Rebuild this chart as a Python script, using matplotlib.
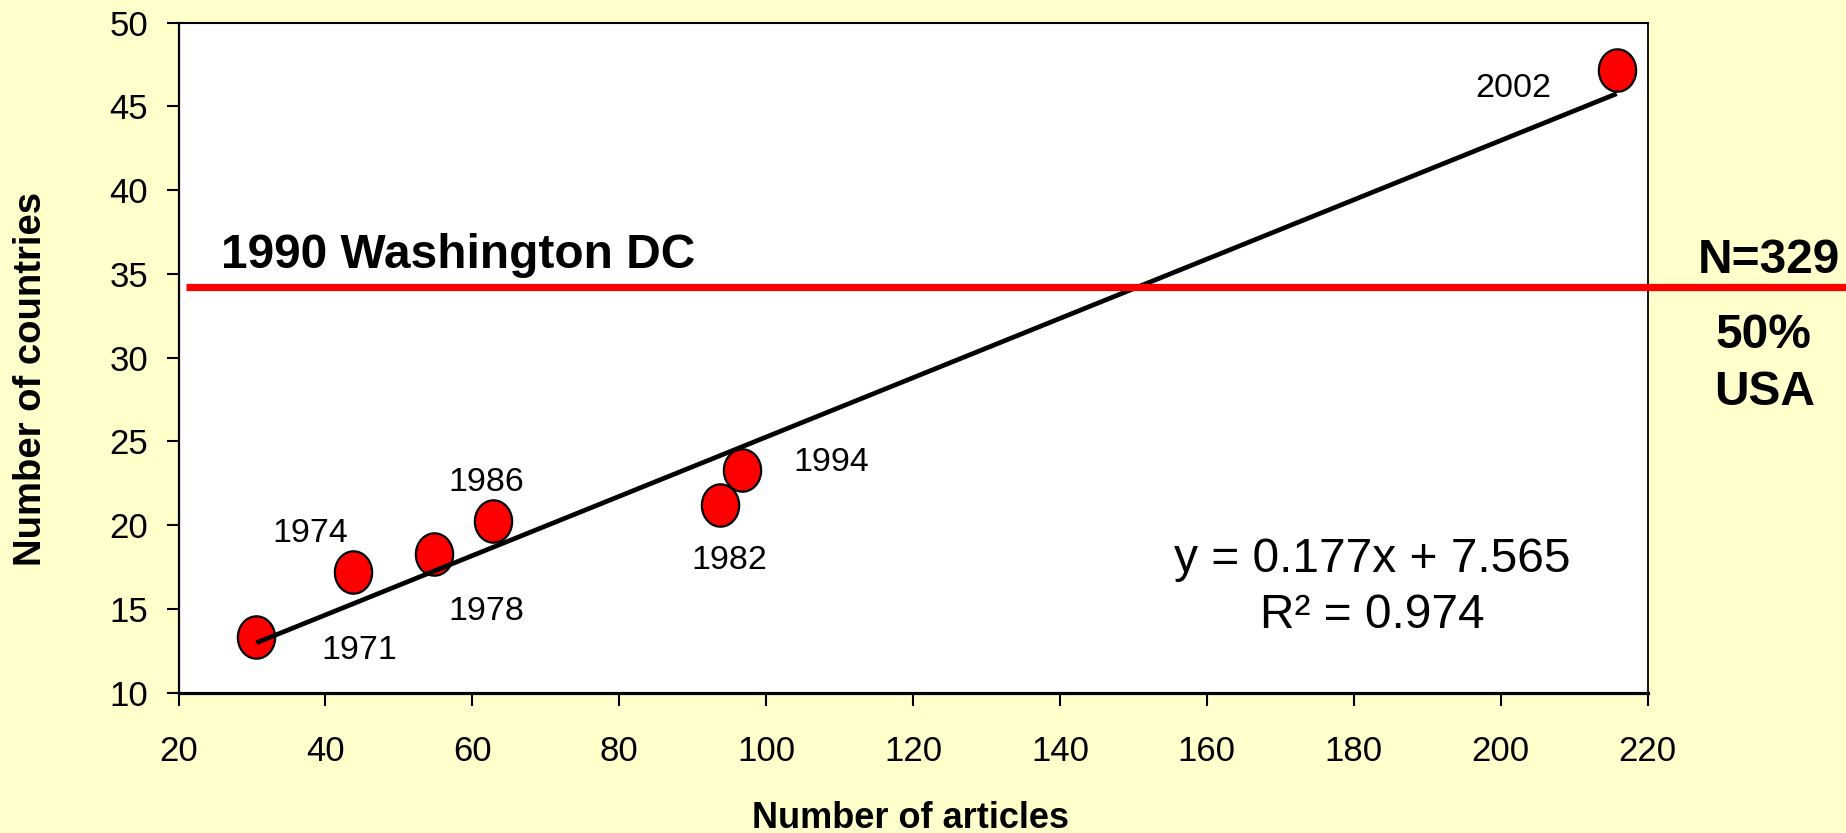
import numpy as np
import matplotlib
matplotlib.use("Agg")
import matplotlib.pyplot as plt
from matplotlib.path import Path
import matplotlib.transforms as mtransforms

# ---------------- data ----------------
years = ["1971", "1974", "1978", "1986", "1982", "1994", "2002"]
articles = [30.6, 43.8, 54.8, 62.8, 93.7, 96.7, 215.8]
countries = [13.3, 17.2, 18.3, 20.25, 21.2, 23.3, 47.2]
trend_slope = 0.177
trend_intercept = 7.565
r_squared = 0.974
threshold_y = 34.2
threshold_label = "1990 Washington DC"
side_texts = ["N=329", "50%", "USA"]
x_ticks = [20, 40, 60, 80, 100, 120, 140, 160, 180, 200, 220]
y_ticks = [10, 15, 20, 25, 30, 35, 40, 45, 50]

# ---------------- layout / style ----------------
W, H = 1846, 833
BG = "#FFFFCC"
FONT = "Liberation Sans"
plt.rcParams["font.family"] = [FONT, "DejaVu Sans"]

# label offsets in pixels (dx, dy upward) relative to each point
label_offsets = {
    "1971": (103, -22),
    "1974": (-43, 30),
    "1978": (52, -66),
    "1986": (-7, 30),
    "1982": (9, -64),
    "1994": (89, -1),
    "2002": (-103, -27),
}

fig = plt.figure(figsize=(W / 100, H / 100), dpi=100, facecolor=BG)

def fx(px):
    return px / W

def fy(py):
    return 1 - py / H

ax_left, ax_right, ax_top, ax_bottom = 178.6, 1647.5, 22.7, 692.7
ax = fig.add_axes([fx(ax_left), fy(ax_bottom), fx(ax_right - ax_left), (ax_bottom - ax_top) / H])
ax.set_facecolor("white")
ax.set_xlim(20, 220)
ax.set_ylim(10, 50)
ax.set_xticks(x_ticks)
ax.set_yticks(y_ticks)
ax.tick_params(axis="y", direction="out", length=9, width=1.5, pad=13, labelsize=25)
ax.tick_params(axis="x", direction="out", length=9.6, width=1.5, pad=21, labelsize=25)
ax.spines["bottom"].set_linewidth(2.3)
ax.spines["left"].set_linewidth(1.6)
ax.spines["top"].set_linewidth(1.5)
ax.spines["right"].set_linewidth(1.3)
for s in ax.spines.values():
    s.set_color("black")

# ellipse marker (slightly taller than wide)
t = np.linspace(0, 2 * np.pi, 60)
ell = Path(np.column_stack([0.88 * np.cos(t), np.sin(t)]), closed=True)

ax.plot(articles, countries, linestyle="none", marker=ell, markersize=30.5,
        markerfacecolor="#FF0000", markeredgecolor="black", markeredgewidth=1.6, zorder=3)

# trend line
xt = np.array([min(articles), max(articles)])
ax.plot(xt, trend_slope * xt + trend_intercept, color="black", lw=3.4, zorder=4,
        solid_capstyle="butt")

# year labels
for yr, xv, yv in zip(years, articles, countries):
    dx, dy = label_offsets[yr]
    ax.annotate(yr, (xv, yv), xytext=(dx, dy), textcoords="offset pixels",
                ha="center", va="baseline", fontsize=24.5, color="black", zorder=5)

# threshold red line across to the figure edge
blend = mtransforms.blended_transform_factory(fig.transFigure, ax.transData)
ax.plot([fx(186), 1.0], [threshold_y, threshold_y], color="#FF0000", lw=5.2,
        transform=blend, clip_on=False, zorder=6, solid_capstyle="butt")

fig.text(fx(221), fy(268), threshold_label, fontsize=34.5, fontweight="bold",
         ha="left", va="baseline")

# side annotations
fig.text(fx(1768.6), fy(272.7), side_texts[0], fontsize=34.5, fontweight="bold", ha="center", va="baseline")
fig.text(fx(1763), fy(348), side_texts[1], fontsize=34.5, fontweight="bold", ha="center", va="baseline")
fig.text(fx(1765), fy(405), side_texts[2], fontsize=34.5, fontweight="bold", ha="center", va="baseline")

# equation
fig.text(fx(1372), fy(571.7), f"y = {trend_slope:.3f}x + {trend_intercept:.3f}", fontsize=34.5,
         ha="center", va="baseline")
fig.text(fx(1372), fy(628), f"R\u00b2 = {r_squared:.3f}", fontsize=34.5, ha="center", va="baseline")

# axis labels
fig.text(fx(911), fy(828), "Number of articles", fontsize=26, fontweight="bold",
         ha="center", va="baseline")
fig.text(fx(31), fy(379), "Number of countries", fontsize=27.5, fontweight="bold",
         ha="center", va="center", rotation=90)

fig.savefig("out.png", dpi=100, facecolor=BG)
